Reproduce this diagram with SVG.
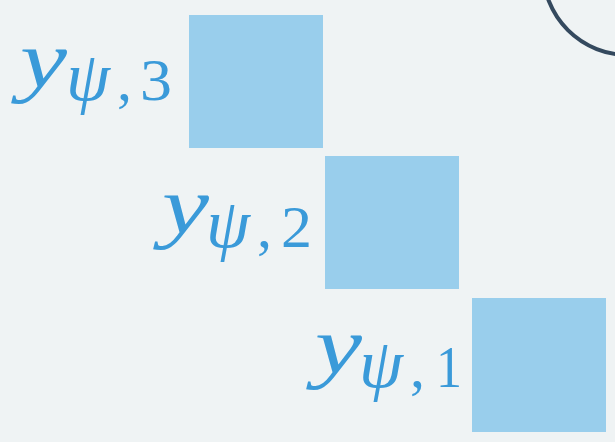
<svg xmlns="http://www.w3.org/2000/svg" width="615" height="442" viewBox="0 0 615 442">
<style>
.bg{fill:#eff3f4}
.sq{fill:#99ceec}
.lbl{fill:#3a9ad9;font-family:"Liberation Serif","DejaVu Serif",serif}
.m{font-style:italic;font-size:80px}
.p{font-style:italic;font-size:70px}
.s{font-size:60px}
.circ{fill:none;stroke:#34495e;stroke-width:4}
</style>
<rect class="bg" x="0" y="0" width="615" height="442"/>
<g id="circle"><circle class="circ" cx="628" cy="-30" r="85"/></g>
<g id="node3">
<rect class="sq" x="189" y="15" width="134" height="133"/>
<text class="lbl m" x="20" y="87" textLength="47" lengthAdjust="spacingAndGlyphs">y</text>
<text class="lbl p" x="66" y="100" textLength="44" lengthAdjust="spacingAndGlyphs">ψ</text>
<text class="lbl s" x="117" y="100">,</text>
<text class="lbl s" x="140" y="100" textLength="32" lengthAdjust="spacingAndGlyphs">3</text>
</g>
<g id="node2">
<rect class="sq" x="325" y="156" width="134" height="133"/>
<text class="lbl m" x="162" y="233" textLength="47" lengthAdjust="spacingAndGlyphs">y</text>
<text class="lbl p" x="206" y="247" textLength="44" lengthAdjust="spacingAndGlyphs">ψ</text>
<text class="lbl s" x="257" y="247">,</text>
<text class="lbl s" x="281" y="247" textLength="31" lengthAdjust="spacingAndGlyphs">2</text>
</g>
<g id="node1">
<rect class="sq" x="472" y="298" width="134" height="134"/>
<text class="lbl m" x="315" y="373" textLength="47" lengthAdjust="spacingAndGlyphs">y</text>
<text class="lbl p" x="359" y="387" textLength="44" lengthAdjust="spacingAndGlyphs">ψ</text>
<text class="lbl s" x="410" y="387">,</text>
<text class="lbl s" x="436" y="387" textLength="26" lengthAdjust="spacingAndGlyphs">1</text>
</g>
<g id="connectors"/>
</svg>
